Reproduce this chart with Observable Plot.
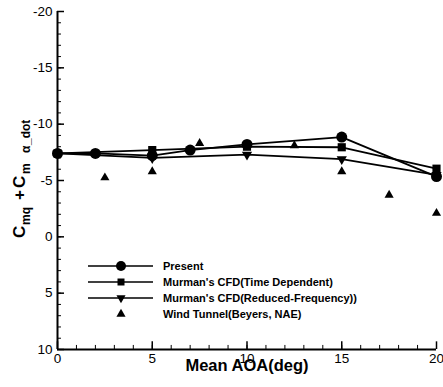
<!DOCTYPE html>
<html>
<head>
<meta charset="utf-8">
<script src="https://cdn.jsdelivr.net/npm/d3@7"></script>
<script src="https://cdn.jsdelivr.net/npm/@observablehq/plot@0.6"></script>
<style>
  body { margin: 0; background: #fff; }
  #wrap { position: relative; width: 443px; height: 387px; font-family: "Liberation Sans", Arial, sans-serif; }
  #legend { position: absolute; left: 88px; top: 258px; font-weight: bold; font-size: 11px; color: #000; }
  .row { display: flex; align-items: center; height: 16px; }
  .row svg { display: block; }
  .row span { margin-left: 10px; white-space: nowrap; }
</style>
</head>
<body>
<div id="wrap"><div id="legend"></div></div>
<script>
// ---- data ----
const seriesNames = ["Present", "Murman's CFD(Time Dependent)", "Murman's CFD(Reduced-Frequency))", "Wind Tunnel(Beyers, NAE)"];

const presentAOA = [0, 2, 5, 7, 10, 15, 20];
const presentVal = [-7.4, -7.4, -7.2, -7.7, -8.2, -8.85, -5.35];

const timeDepAOA = [0, 5, 10, 15, 20];
const timeDepVal = [-7.4, -7.7, -8.0, -7.95, -6.05];

const redFreqAOA = [0, 5, 10, 15, 20];
const redFreqVal = [-7.4, -7.0, -7.3, -6.9, -5.5];

const windAOA = [2.5, 5, 7.5, 12.5, 15, 17.5, 20];
const windVal = [-5.25, -5.8, -8.3, -8.1, -5.8, -3.7, -2.1];

const xMajor = [0, 5, 10, 15, 20];
const xMinor = d3.range(0, 21, 1);
const yMajor = [-20, -15, -10, -5, 0, 5, 10];
const yMinor = d3.range(-20, 11, 1);

const xLabel = "Mean AOA(deg)";

// ---- build tables ----
const zip = (xs, ys) => xs.map((x, i) => ({x, y: ys[i]}));
const present = zip(presentAOA, presentVal);
const timeDep = zip(timeDepAOA, timeDepVal);
const redFreq = zip(redFreqAOA, redFreqVal);
const wind = zip(windAOA, windVal);

const sqrt3 = Math.sqrt(3);
const triangleDown = {
  draw(ctx, size) {
    const y = -Math.sqrt(size / (sqrt3 * 3));
    ctx.moveTo(0, -y * 2);
    ctx.lineTo(-sqrt3 * y, y);
    ctx.lineTo(sqrt3 * y, y);
    ctx.closePath();
  }
};

const lw = 1.8;
const chart = Plot.plot({
  width: 443,
  height: 387,
  marginLeft: 57,
  marginRight: 7,
  marginTop: 11,
  marginBottom: 38,
  style: {fontFamily: "Liberation Sans, Arial, sans-serif", fontSize: "13.5px", color: "#000", background: "#fff"},
  x: {domain: [0, 20]},
  y: {domain: [-20, 10], reverse: true},
  marks: [
    Plot.axisX({ticks: xMajor, tickSize: 0, tickPadding: 4, tickFormat: d => String(d), label: null, fontSize: 13.5}),
    Plot.axisY({ticks: yMajor, tickSize: 0, tickPadding: 5, tickFormat: d => String(d), label: null, fontSize: 13.5}),
    // inward ticks
    Plot.ruleY(yMinor, {y: d => d, x1: 0, x2: 0.21, stroke: "#000", strokeWidth: 1}),
    Plot.ruleY(yMajor, {y: d => d, x1: 0, x2: 0.37, stroke: "#000", strokeWidth: 1.5}),
    Plot.ruleX(xMinor, {x: d => d, y1: 10, y2: 10 - 0.36, stroke: "#000", strokeWidth: 1}),
    Plot.ruleX(xMajor, {x: d => d, y1: 10, y2: 10 - 0.68, stroke: "#000", strokeWidth: 1.5}),
    // axis lines
    Plot.ruleX([0], {stroke: "#000", strokeWidth: 2}),
    Plot.ruleY([10], {stroke: "#000", strokeWidth: 2}),
    // series lines
    Plot.line(redFreq, {x: "x", y: "y", stroke: "#000", strokeWidth: lw}),
    Plot.line(timeDep, {x: "x", y: "y", stroke: "#000", strokeWidth: lw}),
    Plot.line(present, {x: "x", y: "y", stroke: "#000", strokeWidth: lw}),
    // markers
    Plot.dot(redFreq, {x: "x", y: "y", symbol: triangleDown, r: 3.8, fill: "#000", stroke: "none"}),
    Plot.dot(timeDep, {x: "x", y: "y", symbol: "square", r: 4.6, fill: "#000", stroke: "none"}),
    Plot.dot(present, {x: "x", y: "y", symbol: "circle", r: 5.5, fill: "#000", stroke: "none"}),
    Plot.dot(wind, {x: "x", y: "y", symbol: "triangle", r: 3.4, fill: "#000", stroke: "none"}),
    // x axis title
    Plot.text([xLabel], {text: d => d, frameAnchor: "bottom", dy: 21, fontSize: 16.5, fontWeight: "bold", fill: "#000"})
  ]
});
const wrap = document.getElementById("wrap");
wrap.insertBefore(chart, wrap.firstChild);

// ---- y axis title with subscripts ----
const ns = "http://www.w3.org/2000/svg";
const t = document.createElementNS(ns, "text");
t.setAttribute("transform", "translate(25,238) rotate(-90)");
t.setAttribute("font-weight", "bold");
t.setAttribute("fill", "#000");
t.setAttribute("text-anchor", "start");
t.setAttribute("font-family", "Liberation Sans, Arial, sans-serif");
const parts = [
  {s: "C", x: 0, y: 0, f: 17},
  {s: "mq", x: 13, y: 5, f: 12},
  {s: "+", x: 38, y: 0, f: 17},
  {s: "C", x: 50, y: 0, f: 17},
  {s: "m", x: 64, y: 5, f: 12},
  {s: "\u03b1", x: 85, y: 5, f: 12},
  {s: "_dot", x: 93, y: 5, f: 12}
];
for (const p of parts) {
  const ts = document.createElementNS(ns, "tspan");
  ts.setAttribute("x", p.x);
  ts.setAttribute("y", p.y);
  ts.setAttribute("font-size", p.f);
  ts.setAttribute("text-anchor", "start");
  ts.textContent = p.s;
  t.appendChild(ts);
}
chart.appendChild(t);

// ---- legend ----
const legendSymbols = [d3.symbolCircle, d3.symbolSquare, triangleDown, d3.symbolTriangle];
const legendSizes = [Math.PI * 5 * 5, 49, Math.PI * 3.4 * 3.4, Math.PI * 3.4 * 3.4];
const legendLines = [true, true, true, false];
const legend = document.getElementById("legend");
seriesNames.forEach((name, i) => {
  const row = document.createElement("div");
  row.className = "row";
  const svg = d3.create("svg").attr("width", 65).attr("height", 16);
  if (legendLines[i]) svg.append("line").attr("x1", 0).attr("x2", 65).attr("y1", 8).attr("y2", 8).attr("stroke", "#000").attr("stroke-width", 1.5);
  svg.append("path").attr("transform", "translate(33,8)").attr("d", d3.symbol(legendSymbols[i], legendSizes[i])()).attr("fill", "#000");
  row.appendChild(svg.node());
  const sp = document.createElement("span");
  sp.textContent = name;
  row.appendChild(sp);
  legend.appendChild(row);
});
</script>
</body>
</html>
